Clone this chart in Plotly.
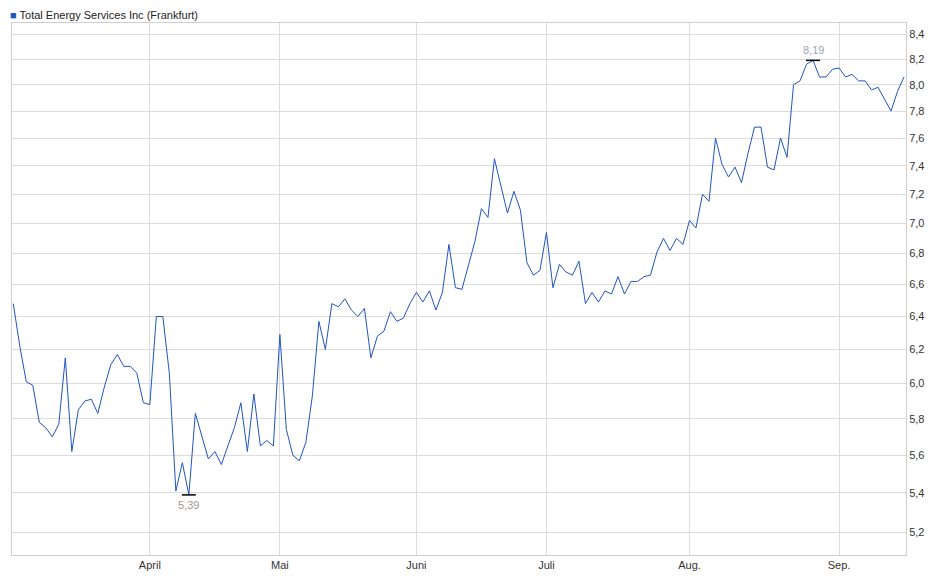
import math
import plotly.graph_objects as go

prices = [6.48, 6.22, 6.01, 5.99, 5.78, 5.75, 5.70, 5.77, 6.15, 5.62,
          5.85, 5.90, 5.91, 5.83, 5.98, 6.11, 6.17, 6.10, 6.10, 6.06,
          5.89, 5.88, 6.40, 6.40, 6.06, 5.41, 5.56, 5.39, 5.83, 5.70,
          5.58, 5.62, 5.55, 5.65, 5.75, 5.89, 5.62, 5.94, 5.65, 5.68,
          5.65, 6.29, 5.74, 5.60, 5.57, 5.67, 5.93, 6.37, 6.20, 6.48,
          6.46, 6.51, 6.44, 6.40, 6.45, 6.15, 6.28, 6.31, 6.43, 6.37,
          6.39, 6.48, 6.55, 6.49, 6.56, 6.44, 6.55, 6.86, 6.58, 6.57,
          6.72, 6.88, 7.10, 7.04, 7.45, 7.25, 7.07, 7.22, 7.09, 6.74,
          6.66, 6.69, 6.94, 6.58, 6.73, 6.68, 6.66, 6.75, 6.48, 6.55,
          6.49, 6.56, 6.54, 6.65, 6.54, 6.62, 6.62, 6.65, 6.66, 6.81,
          6.90, 6.82, 6.90, 6.86, 7.02, 6.97, 7.20, 7.15, 7.60, 7.41,
          7.32, 7.39, 7.28, 7.49, 7.68, 7.68, 7.39, 7.37, 7.60, 7.46,
          8.00, 8.03, 8.16, 8.19, 8.06, 8.06, 8.12, 8.13, 8.06, 8.08,
          8.03, 8.03, 7.96, 7.98, 7.89, 7.80, 7.95, 8.06]
month_labels = ["April", "Mai", "Juni", "Juli", "Aug.", "Sep."]
month_index = [21, 41, 62, 82, 104, 127]
y_ticks = [5.2, 5.4, 5.6, 5.8, 6.0, 6.2, 6.4, 6.6, 6.8, 7.0, 7.2, 7.4, 7.6, 7.8, 8.0, 8.2, 8.4]

idx = list(range(len(prices)))
i_min = prices.index(min(prices))
i_max = prices.index(max(prices))

def de(v):
    return f"{v:.2f}".replace(".", ",")

fig = go.Figure()
fig.add_trace(go.Scatter(x=idx, y=prices, mode="lines",
                         line=dict(color="#1f55c4", width=1), hoverinfo="y"))
fig.add_trace(go.Scatter(x=[i_min, i_max], y=[prices[i_min], prices[i_max]], mode="markers",
                         marker=dict(symbol="line-ew", size=10, line=dict(color="black", width=1.5)),
                         hoverinfo="skip"))
fig.add_annotation(x=i_min, y=math.log10(prices[i_min]), text=de(prices[i_min]), showarrow=False,
                   yanchor="top", yshift=-2, font=dict(color="#a09494", size=11))
fig.add_annotation(x=i_max, y=math.log10(prices[i_max]), text=de(prices[i_max]), showarrow=False,
                   yanchor="bottom", yshift=2, font=dict(color="#9aa6b8", size=11))
fig.add_annotation(xref="paper", yref="paper", x=0, y=1, yshift=0, xshift=-4,
                   xanchor="left", yanchor="bottom", showarrow=False,
                   text="<span style='color:#1f55c4'>■</span> Total Energy Services Inc (Frankfurt)",
                   font=dict(size=11, color="#222"))

fig.update_layout(
    width=940, height=579,
    margin=dict(l=4, r=42, t=15, b=32, autoexpand=False),
    paper_bgcolor="white", plot_bgcolor="white",
    showlegend=False,
    font=dict(family="Liberation Sans, Arial, sans-serif", size=11, color="#333"),
    xaxis=dict(range=[-0.2, 137.3], tickvals=month_index, ticktext=month_labels,
               showgrid=True, gridcolor="#dcdcdc", zeroline=False, automargin=False,
               showline=True, linecolor="#cfcfcf", mirror=True, ticks=""),
    yaxis=dict(type="log", range=[math.log10(5.087), math.log10(8.49)], side="right",
               tickvals=y_ticks, ticktext=[f"{v:.1f}".replace(".", ",") for v in y_ticks],
               showgrid=True, gridcolor="#dcdcdc", zeroline=False, automargin=False,
               showline=True, linecolor="#cfcfcf", mirror=True, ticks=""),
)
fig.write_html("out.html")
